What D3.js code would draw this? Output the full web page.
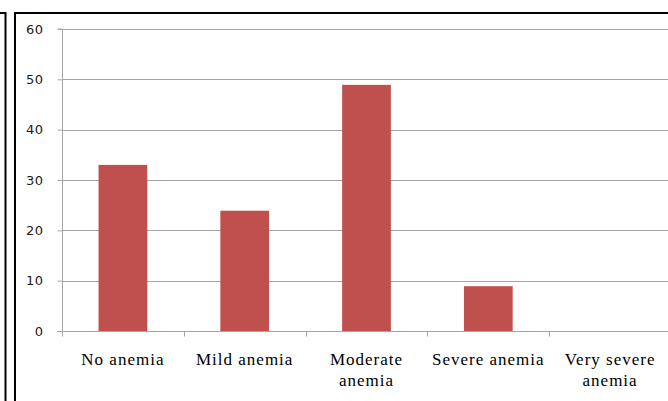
<!DOCTYPE html>
<html><head><meta charset="utf-8">
<script src="https://cdn.jsdelivr.net/npm/d3@7"></script>
<style>body{margin:0;background:#fff;overflow:hidden}</style>
</head><body>
<script>
const categories = ["No anemia", "Mild anemia", "Moderate anemia", "Severe anemia", "Very severe anemia"];
const labelLines = [["No anemia"], ["Mild anemia"], ["Moderate", "anemia"], ["Severe anemia"], ["Very severe", "anemia"]];
const values = [33.0, 23.9, 48.9, 8.9, 0];
const yTicks = [0, 10, 20, 30, 40, 50, 60];

const W = 668, H = 401;
const svg = d3.select("body").append("svg").attr("width", W).attr("height", H);

// frames
svg.append("path").attr("d", "M0,13 H5.5 V401").attr("fill", "none").attr("stroke", "#000").attr("stroke-width", 2);
svg.append("path").attr("d", "M15,401 V13 H668").attr("fill", "none").attr("stroke", "#000").attr("stroke-width", 2);

const x0 = 62, x1 = 671, yTop = 29, yBot = 331;
const x = d3.scaleBand().domain(categories).range([x0, x1]).paddingInner(0).paddingOuter(0);
const y = d3.scaleLinear().domain([0, 60]).range([yBot, yTop]);

// gridlines
svg.append("g").selectAll("line").data(yTicks.filter(d => d > 0)).join("line")
  .attr("x1", x0).attr("x2", x1)
  .attr("y1", d => Math.round(y(d)) + 0.5).attr("y2", d => Math.round(y(d)) + 0.5)
  .attr("stroke", "#a6a6a6").attr("stroke-width", 1);

// bars
const bw = x.bandwidth() * 0.4;
svg.append("g").selectAll("rect").data(values).join("rect")
  .attr("x", (d, i) => x(categories[i]) + (x.bandwidth() - bw) / 2)
  .attr("width", bw)
  .attr("y", d => y(d))
  .attr("height", d => y(0) - y(d))
  .attr("fill", "#c0504d");

// y axis
const ya = svg.append("g").attr("transform", `translate(${x0 + 0.5},0)`)
  .call(d3.axisLeft(y).tickValues(yTicks).tickSize(5).tickPadding(14).tickFormat(d3.format("d")));
ya.select(".domain").attr("stroke", "#a6a6a6").attr("d", `M-5,${yTop}H0V${yBot}`);
ya.selectAll(".tick line").attr("stroke", "#a6a6a6");
ya.selectAll("text").attr("font-family", "DejaVu Sans, Verdana, sans-serif").attr("font-size", 13)
  .attr("letter-spacing", 0.5).attr("fill", "#1a1a1a");

// x axis
const xa = svg.append("g").attr("transform", `translate(0,${yBot + 0.5})`);
xa.append("line").attr("x1", x0 - 5).attr("x2", x1).attr("stroke", "#a6a6a6");
const bounds = categories.map(c => x(c));
xa.selectAll("line.t").data(bounds).join("line").attr("class", "t")
  .attr("x1", d => Math.round(d) + 0.5).attr("x2", d => Math.round(d) + 0.5)
  .attr("y1", 0).attr("y2", 5).attr("stroke", "#a6a6a6");

const lab = svg.append("g").selectAll("text").data(categories).join("text")
  .attr("x", d => x(d) + x.bandwidth() / 2)
  .attr("y", 365)
  .attr("text-anchor", "middle")
  .attr("font-family", "'Liberation Serif', 'DejaVu Serif', serif")
  .attr("font-size", 17).attr("letter-spacing", 1).attr("fill", "#000");
lab.each(function(d, i) {
  const t = d3.select(this);
  labelLines[i].forEach((l, j) => {
    t.append("tspan").attr("x", x(d) + x.bandwidth() / 2).attr("dy", j === 0 ? 0 : 21).text(l);
  });
});
</script>
</body></html>
